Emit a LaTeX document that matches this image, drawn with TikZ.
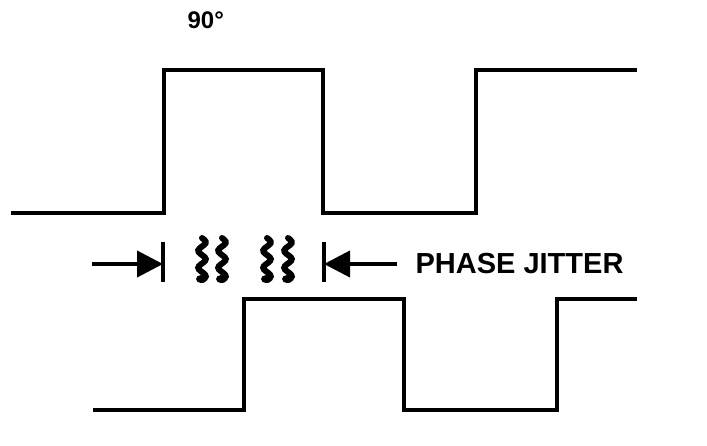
\documentclass[tikz,border=0pt]{standalone}
\usepackage{fontspec}
\setmainfont{Liberation Sans}
\usepackage{tikz}
\usetikzlibrary{arrows,arrows.meta,positioning,calc}
\tikzstyle{Mytext} = [text centered, font=\bfseries]
\tikzset{
    wave/.style={
        line width=2pt,
        line join=miter,
        draw=black,
    },
    marker/.style={
        line width=2pt,
        draw=black,
    },
    pointer/.style={
        line width=2pt,
        draw=black,
        -{Triangle[length=13pt,width=13pt]},
    },
    wiggle/.style={
        line width=3pt,
        line cap=round,
        draw=black,
    },
}

\begin{document}
\begin{tikzpicture}[
    x=0.5pt,
    y=-0.5pt,
    semithick]

\useasboundingbox (0,0) rectangle (707,445);

% upper waveform
\draw [wave] (11,213) -- (164,213) -- (164,70) -- (323,70) -- (323,213)
    -- (476,213) -- (476,70) -- (637,70);
% lower waveform
\draw [wave] (93,410) -- (244,410) -- (244,299) -- (404,299) -- (404,410)
    -- (557,410) -- (557,299) -- (637,299);

% phase label
\node
[
    Mytext,
    font=\fontsize{12}{14}\selectfont\bfseries,
    anchor=west,
    inner sep=0pt
] (phase) at (187,20)
{
    90°
};

% jitter markers
\coordinate (bar_l) at (163,263);
\coordinate (bar_r) at (324,263);
\coordinate (tail_l) at (92,264);
\coordinate (tail_r) at (397,264);
\draw [marker] ($(bar_l)+(0,-21)$) -- ($(bar_l)+(0,19)$);
\draw [marker] ($(bar_r)+(0,-21)$) -- ($(bar_r)+(0,19)$);
\draw [pointer] (tail_l) -- (bar_l |- tail_l);
\draw [pointer] (tail_r) -- (bar_r |- tail_r);

% wiggles
\foreach \x in {202,222,267,288}
{
    \draw [wiggle] plot [smooth, domain=238:280, samples=25, variable=\t]
        ({\x+3.8*sin((\t-238)*360/17)}, \t);
    \fill (\x-1,279) ellipse (5 and 4);
}

% Label
\node
[
    Mytext,
    font=\fontsize{14.5}{17}\selectfont\bfseries,
    anchor=west,
    inner sep=0pt
] (jitter) at (415,264)
{
    PHASE JITTER
};

\end{tikzpicture}
\end{document}
